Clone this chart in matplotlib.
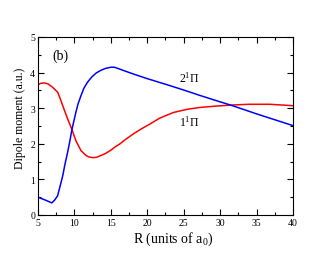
import matplotlib
matplotlib.use("Agg")
import matplotlib.pyplot as plt
from matplotlib.ticker import MultipleLocator

plt.rcParams['font.family'] = ['Liberation Serif', 'DejaVu Serif']
plt.rcParams['mathtext.fontset'] = 'custom'
plt.rcParams['mathtext.rm'] = 'Liberation Serif'
plt.rcParams['mathtext.it'] = 'Liberation Serif'

R_2pi = [5, 6, 6.9, 7.3, 7.7, 8.0, 8.4, 8.7, 9.07, 9.4, 9.66, 10.2, 10.5, 10.9, 11.3, 11.8, 12.4,
         13.0, 13.6, 14.3, 15.0, 15.5, 16.2, 17.0, 18.1, 20, 22.7, 25, 27.2, 29.5, 31.7, 35, 40]
D_2pi = [0.50, 0.42, 0.34, 0.42, 0.54, 0.78, 1.10, 1.42, 1.76, 2.10, 2.40, 2.88, 3.12, 3.35, 3.56, 3.73, 3.88,
         3.99, 4.06, 4.12, 4.15, 4.15, 4.10, 4.04, 3.96, 3.83, 3.66, 3.51, 3.36, 3.21, 3.07, 2.84, 2.51]

R_1pi = [5, 5.4, 5.87, 6.4, 7.0, 7.7, 8.0, 8.4, 9.07, 9.66, 10.2, 10.9, 11.6, 12.0, 12.5, 13.0, 13.4,
         14.2, 15.0, 15.7, 16.2, 17.0, 18.1, 19.2, 20.4, 21.7, 23.6, 25.5, 27.2, 29.5, 31.7, 34, 36.8, 40]
D_1pi = [3.66, 3.70, 3.71, 3.68, 3.59, 3.45, 3.30, 3.07, 2.70, 2.40, 2.09, 1.81, 1.67, 1.63, 1.61, 1.62, 1.65,
         1.72, 1.82, 1.93, 1.99, 2.12, 2.28, 2.42, 2.56, 2.72, 2.88, 2.97, 3.02, 3.06, 3.09, 3.11, 3.11, 3.07]

fig = plt.figure(figsize=(3.3, 2.55), dpi=100)
ax = fig.add_axes([0.115, 0.153, 0.773, 0.698])

ax.plot(R_1pi, D_1pi, color='#ff0000', lw=1.1)
ax.plot(R_2pi, D_2pi, color='#0000ff', lw=1.1)

ax.set_xlim(5, 40)
ax.set_ylim(0, 5)
ax.xaxis.set_major_locator(MultipleLocator(5))
ax.xaxis.set_minor_locator(MultipleLocator(2.5))
ax.yaxis.set_major_locator(MultipleLocator(1))
ax.yaxis.set_minor_locator(MultipleLocator(0.5))
ax.tick_params(which='both', direction='in', top=True, right=True, labelsize=7, width=0.8, pad=2)
ax.tick_params(which='major', length=4)
ax.tick_params(which='minor', length=2)
for s in ax.spines.values():
    s.set_linewidth(0.8)

ax.set_xlabel('R (units of a$_0$)', fontsize=10, labelpad=0)
ax.xaxis.set_label_coords(0.53, -0.085)
ax.set_ylabel('Dipole moment (a.u.)', fontsize=8.5)
ax.yaxis.set_label_coords(-0.045, 0.55)

ax.text(7.0, 4.5, '(b)', fontsize=10, va='center', ha='left')
ax.text(25.7, 3.86, '2$^1\\Pi$', fontsize=8.5, va='center', ha='center')
ax.text(25.7, 2.62, '1$^1\\Pi$', fontsize=8.5, va='center', ha='center')

fig.savefig('out.png', dpi=100)
